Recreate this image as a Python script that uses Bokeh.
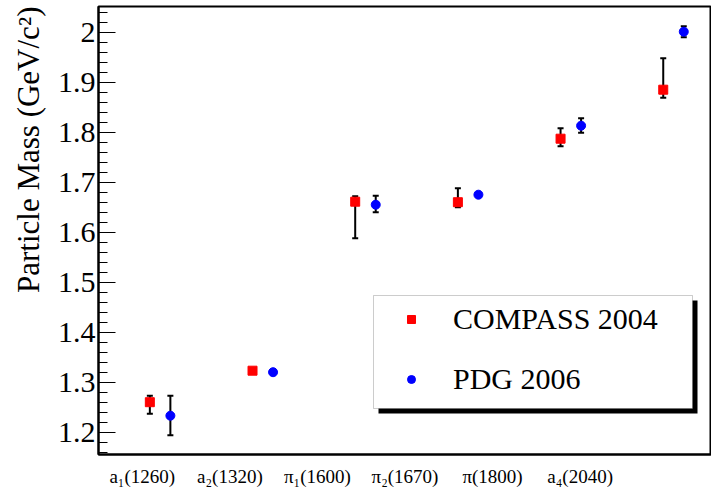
import math
from bokeh.plotting import figure
from bokeh.models import (ColumnDataSource, FixedTicker, Whisker, TeeHead, Legend,
                          LegendItem, BoxAnnotation, Title, CustomJSTickFormatter, Range1d)
from bokeh.embed import file_html
from bokeh.resources import INLINE

# ---------------- data ----------------
particles = ["a\u2081(1260)", "a\u2082(1320)", "\u03c0\u2081(1600)", "\u03c0\u2082(1670)", "\u03c0(1800)", "a\u2084(2040)"]
compass_mass = [1.260, 1.323, 1.661, 1.660, 1.787, 1.885]
compass_err_hi = [0.013, 0.002, 0.011, 0.028, 0.021, 0.063]
compass_err_lo = [0.023, 0.002, 0.073, 0.010, 0.015, 0.016]
pdg_mass = [1.233, 1.320, 1.655, 1.675, 1.813, 2.001]
pdg_err_hi = [0.040, 0.001, 0.018, 0.003, 0.015, 0.011]
pdg_err_lo = [0.039, 0.001, 0.015, 0.003, 0.014, 0.011]
y_major_ticks = [1.2, 1.3, 1.4, 1.5, 1.6, 1.7, 1.8, 1.9, 2.0]

# ---------------- geometry ----------------
W, H = 711, 489
FL, FR, FT, FB = 98, 711, 6, 454          # frame edges in pixels
X_MIN, X_MAX = 0.0, 5.97
Y_MIN, Y_MAX = 1.1554, 2.0514
N_BINS = 7                                 # label bins spread across the axis

def sx2x(px):
    return X_MIN + (px - FL) / (FR - FL) * (X_MAX - X_MIN)

def sy2y(py):
    return Y_MAX - (py - FT) / (FB - FT) * (Y_MAX - Y_MIN)

idx = list(range(len(particles)))
cx = [i + 0.5 for i in idx]
px_ = [i + 0.7 for i in idx]

src_c = ColumnDataSource(dict(
    x=cx, y=compass_mass,
    upper=[m + e for m, e in zip(compass_mass, compass_err_hi)],
    lower=[m - e for m, e in zip(compass_mass, compass_err_lo)]))
src_p = ColumnDataSource(dict(
    x=px_, y=pdg_mass,
    upper=[m + e for m, e in zip(pdg_mass, pdg_err_hi)],
    lower=[m - e for m, e in zip(pdg_mass, pdg_err_lo)]))

FONT = "Liberation Serif"

p = figure(width=W, height=H, x_range=Range1d(X_MIN, X_MAX), y_range=Range1d(Y_MIN, Y_MAX),
           output_backend="svg", toolbar_location=None,
           min_border_left=FL, min_border_right=W - FR, min_border_top=FT,
           min_border_bottom=H - FB)
p.background_fill_color = "white"
p.border_fill_color = "white"
p.grid.visible = False
p.outline_line_color = "black"
p.outline_line_width = 2

# y axis
yax = p.yaxis[0]
minor = [round(1.16 + 0.02 * k, 2) for k in range(45)]
yax.ticker = FixedTicker(ticks=y_major_ticks, minor_ticks=minor)
yax.formatter = CustomJSTickFormatter(code="return tick.toFixed(1).replace(/\\.0$/, '');")
yax.major_tick_in = 17
yax.major_tick_out = 0
yax.minor_tick_in = 9
yax.minor_tick_out = 0
yax.major_tick_line_color = "black"
yax.minor_tick_line_color = "black"
yax.axis_line_width = 2
yax.major_label_text_font = FONT
yax.major_label_text_font_size = "30px"
yax.major_label_text_color = "black"
yax.major_label_standoff = 3

# x axis
xax = p.xaxis[0]
step = (X_MAX - X_MIN) / N_BINS
xax.ticker = FixedTicker(ticks=[X_MIN + (j + 0.5) * step for j in idx], minor_ticks=[])
xax.formatter = CustomJSTickFormatter(args=dict(names=particles, step=step),
                                      code="const i = Math.round(tick/step - 0.5); return names[i] || '';")
xax.major_tick_in = 0
xax.major_tick_out = 0
xax.minor_tick_in = 0
xax.minor_tick_out = 0
xax.axis_line_width = 2
xax.major_label_text_font = FONT
xax.major_label_text_font_size = "19px"
xax.major_label_text_color = "black"
xax.major_label_standoff = 11

# error bars
for src in (src_c, src_p):
    w = Whisker(base="x", upper="upper", lower="lower", source=src, line_color="black",
                line_width=2,
                upper_head=TeeHead(size=6, line_color="black", line_width=2),
                lower_head=TeeHead(size=6, line_color="black", line_width=2))
    p.add_layout(w)

r_c = p.scatter("x", "y", source=src_c, marker="square", size=9, color="#ff0000")
r_p = p.scatter("x", "y", source=src_p, marker="circle", size=9, color="#0000ff")

# legend box with shadow
bl, br, bt, bb = 373, 692, 295, 408
shadow = BoxAnnotation(left=sx2x(bl + 5), right=sx2x(br + 5), top=sy2y(bt + 5), bottom=sy2y(bb + 5),
                       fill_color="black", fill_alpha=1, line_alpha=0)
box = BoxAnnotation(left=sx2x(bl), right=sx2x(br), top=sy2y(bt), bottom=sy2y(bb),
                    fill_color="white", fill_alpha=1, line_color="#555555", line_width=1)
p.add_layout(shadow)
p.add_layout(box)

legend = Legend(items=[LegendItem(label="COMPASS 2004", renderers=[r_c]),
                       LegendItem(label="PDG 2006", renderers=[r_p])],
                location=(401 - FL, FB - 396), padding=0, margin=0,
                glyph_width=20, glyph_height=20, label_height=30, spacing=26,
                label_standoff=32, label_text_font=FONT, label_text_font_size="30px",
                label_text_color="black", border_line_alpha=0, background_fill_alpha=0)
p.add_layout(legend)

# y-axis title (ROOT style: aligned to the top of the axis)
p.add_layout(Title(text="Particle Mass (GeV/c\u00b2)", align="right", vertical_align="top",
                   text_font=FONT, text_font_size="31px", text_font_style="normal",
                   text_color="black", standoff=14, offset=0), "left")

open("out.html", "w").write(file_html(p, INLINE))
